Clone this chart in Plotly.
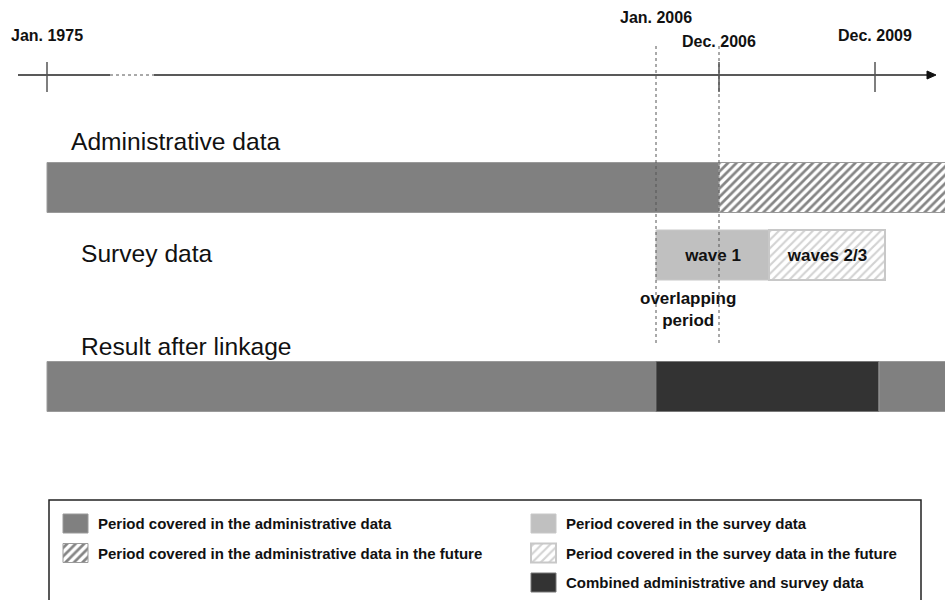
import plotly.graph_objects as go

# ---------------- data (schematic timeline positions) ----------------
milestone_labels = ["Jan. 1975", "Jan. 2006", "Dec. 2006", "Dec. 2009"]
milestone_pos = [47, 656, 719, 875]          # position on the schematic time axis
milestone_label_y = [35, 17, 41, 35]

row_names = ["Administrative data", "Survey data", "Result after linkage"]
row_center = [187.5, 255, 386.5]
row_title_x = [69, 79, 79]
row_title_y = [141, 253, 346]

seg_row = [0, 0, 1, 1, 2, 2, 2]
seg_start = [47, 719, 656, 769, 47, 656, 879]
seg_end = [719, 950, 769, 885, 656, 879, 950]
seg_kind = ["admin", "admin_future", "survey", "survey_future", "admin", "combined", "admin"]
seg_text = ["", "", "wave 1", "waves 2/3", "", "", ""]

legend_kind = ["admin", "admin_future", "survey", "survey_future", "combined"]
legend_text = [
    "Period covered in the administrative data",
    "Period covered in the administrative data in the future",
    "Period covered in the survey data",
    "Period covered in the survey data in the future",
    "Combined administrative and survey data",
]
legend_col = [0, 0, 1, 1, 1]
legend_rowi = [0, 1, 0, 1, 2]

FONT = "Arial, 'Liberation Sans', sans-serif"

styles = {
    "admin": dict(color="#808080", line=dict(color="#9a9a9a", width=1)),
    "admin_future": dict(color="#ffffff",
                         pattern=dict(shape="/", fgcolor="#858585", bgcolor="#ffffff",
                                      size=6, solidity=0.45, fillmode="replace"),
                         line=dict(color="#9a9a9a", width=1)),
    "survey": dict(color="#c0c0c0", line=dict(color="#c8c8c8", width=1)),
    "survey_future": dict(color="#ffffff",
                          pattern=dict(shape="/", fgcolor="#d2d2d2", bgcolor="#ffffff",
                                       size=6, solidity=0.35, fillmode="replace"),
                          line=dict(color="#c8c8c8", width=2)),
    "combined": dict(color="#333333", line=dict(color="#777777", width=1)),
}

fig = go.Figure()

BAR_H = 50
for r, s, e, k, t in zip(seg_row, seg_start, seg_end, seg_kind, seg_text):
    fig.add_trace(go.Bar(
        y=[row_center[r]], x=[e - s], base=[s], orientation="h", width=BAR_H,
        marker=styles[k], showlegend=False, hoverinfo="skip",
        text=["<b>%s</b>" % t if t else ""], textposition="inside",
        insidetextanchor="middle",
        textfont=dict(family=FONT, size=17, color="#111111"),
    ))

# legend swatches (bars so that hatch patterns are available)
LEG_X = [63, 531]
LEG_TX = [96, 564]
LEG_Y = [523.5, 553, 582.5]
for k, c, ri in zip(legend_kind, legend_col, legend_rowi):
    fig.add_trace(go.Bar(
        y=[LEG_Y[ri]], x=[25], base=[LEG_X[c]], orientation="h", width=19,
        marker=styles[k], showlegend=False, hoverinfo="skip",
    ))

annotations = []
for txt, c, ri in zip(legend_text, legend_col, legend_rowi):
    annotations.append(dict(x=LEG_TX[c], y=LEG_Y[ri], text="<b>%s</b>" % txt,
                            xanchor="left", yanchor="middle", showarrow=False,
                            font=dict(family=FONT, size=15, color="#111111")))

for lab, px, ly in zip(milestone_labels, milestone_pos, milestone_label_y):
    annotations.append(dict(x=px, y=ly, text="<b>%s</b>" % lab, xanchor="center",
                            yanchor="middle", showarrow=False,
                            font=dict(family=FONT, size=16, color="#111111")))

for name, tx, ty in zip(row_names, row_title_x, row_title_y):
    annotations.append(dict(x=tx, y=ty, text=name, xanchor="left", yanchor="middle",
                            showarrow=False, font=dict(family=FONT, size=24.6, color="#111111")))

overlap_x = (milestone_pos[1] + milestone_pos[2]) / 2
annotations.append(dict(x=overlap_x, y=309, text="<b>overlapping<br>period</b>",
                        xanchor="center", yanchor="middle", showarrow=False,
                        font=dict(family=FONT, size=17, color="#111111")))

shapes = []
AXIS_Y = 75
# time axis with a break
shapes.append(dict(type="line", x0=18, x1=110, y0=AXIS_Y, y1=AXIS_Y,
                   line=dict(color="#222222", width=1.5)))
shapes.append(dict(type="line", x0=110, x1=154, y0=AXIS_Y, y1=AXIS_Y,
                   line=dict(color="#555555", width=1, dash="dot")))
shapes.append(dict(type="line", x0=154, x1=928, y0=AXIS_Y, y1=AXIS_Y,
                   line=dict(color="#222222", width=1.5)))
shapes.append(dict(type="path", path="M 927 71 L 936 75 L 927 79 Z",
                   fillcolor="#111111", line=dict(color="#111111", width=1)))
# ticks
for i in [0, 2, 3]:
    shapes.append(dict(type="line", x0=milestone_pos[i], x1=milestone_pos[i], y0=62, y1=92,
                       line=dict(color="#555555", width=1.5)))
# dotted guides for overlapping period
for i in [1, 2]:
    shapes.append(dict(type="line", x0=milestone_pos[i], x1=milestone_pos[i], y0=46, y1=344,
                       line=dict(color="#555555", width=1, dash="dot")))
# legend box
shapes.append(dict(type="rect", x0=49, x1=921, y0=500, y1=640,
                   line=dict(color="#222222", width=1.5), fillcolor="rgba(0,0,0,0)"))

fig.update_layout(
    width=945, height=600,
    margin=dict(l=0, r=0, t=0, b=0),
    paper_bgcolor="white", plot_bgcolor="white",
    barmode="overlay",
    xaxis=dict(range=[0, 945], visible=False, fixedrange=True),
    yaxis=dict(range=[600, 0], visible=False, fixedrange=True),
    shapes=shapes, annotations=annotations,
    font=dict(family=FONT),
)

fig.write_html("out.html", config={"displayModeBar": False},
               post_script="document.body.style.margin='0';document.body.style.overflow='hidden';")
